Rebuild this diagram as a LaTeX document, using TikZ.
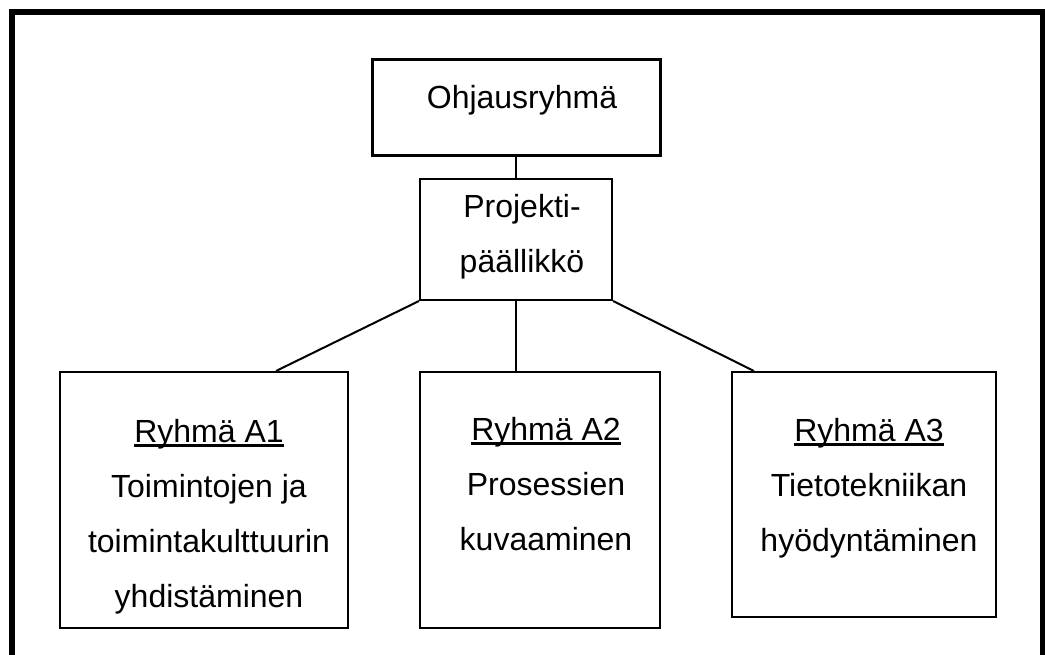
\documentclass[tikz,border=0pt]{standalone}
\usepackage{fontspec}
\setmainfont{Liberation Sans}
\usepackage{tikz}
\usetikzlibrary{fit}
\newcommand{\drawthick}{\draw[line width=6pt]}
\newcommand{\ryhmaline}[1]{\setbox0\hbox{#1}\rlap{\rule[-5pt]{\wd0}{2.6pt}}\box0}
\tikzset{
  orgbox/.style={draw, line width=2pt, inner sep=0pt},
  orgtext/.style={align=center, inner sep=0pt, anchor=base, font=\fontsize{32}{55}\selectfont},
  conn/.style={line width=2pt}
}

\begin{document}
\begin{tikzpicture}[x=1pt,y=-1pt]
\useasboundingbox (0,0) rectangle (1045,655);
\clip (0,0) rectangle (1045,655);
\drawthick (12,670)--(12,12)--(1043,12)--(1043,670);
    \node[orgbox, line width=3pt, fit={(372,60) (660,156)}] (oh) {};
    \node[orgbox, fit={(420,179) (612,300)}] (pp) {};
    \node[orgbox, fit={(60,372) (348,628)}] (a1) {};
    \node[orgbox, fit={(420,372) (660,628)}] (a2) {};
    \node[orgbox, fit={(732,372) (996,617)}] (a3) {};
    \draw[conn] (oh.south) -- (pp.north);
    \draw[conn] (pp.south west) -- ([xshift=217pt]a1.north west);
    \draw[conn] (pp.south) -- (pp.south |- a2.north);
    \draw[conn] (pp.south east) -- ([xshift=23pt]a3.north west);
\node[orgtext] (ohtext) at (522,109) {Ohjausryhmä};
\node[orgtext] (pptext) at (522,273) {Projekti-\\päällikkö};
\node[orgtext] (a1text) at (209,607) {\ryhmaline{Ryhmä A1}\\Toimintojen ja\\toimintakulttuurin\\yhdistäminen};
\node[orgtext] (a2text) at (546,550) {\ryhmaline{Ryhmä A2}\\Prosessien\\kuvaaminen};
\node[orgtext] (a3text) at (869,551) {\ryhmaline{Ryhmä A3}\\Tietotekniikan\\hyödyntäminen};
\end{tikzpicture}
\end{document}
